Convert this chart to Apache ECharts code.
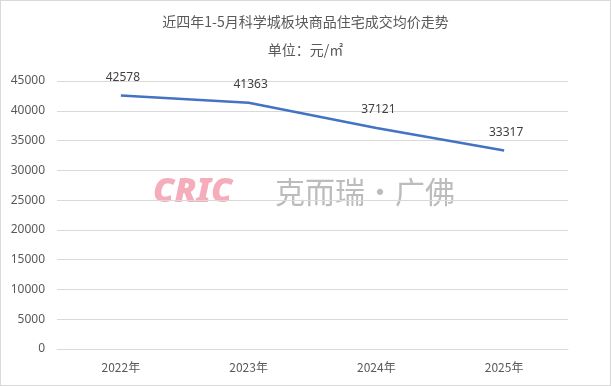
<!DOCTYPE html>
<html><head><meta charset="utf-8">
<script src="https://cdn.jsdelivr.net/npm/echarts@6/dist/echarts.min.js"></script>
<style>
html,body{margin:0;padding:0;background:#fff;}
#c{width:609px;height:384px;border:1px solid #d9d9d9;}
</style></head>
<body><div id="c"></div>
<script>
const titleText = '近四年1-5月科学城板块商品住宅成交均价走势';
const subtitleText = '单位：元/㎡';
const categories = ['2022年','2023年','2024年','2025年'];
const prices = [42578, 41363, 37121, 33317];
const yMin = 0, yMax = 45000, yStep = 5000;

const chart = echarts.init(document.getElementById('c'), null, {renderer:'canvas'});
chart.setOption({
  backgroundColor:'#fff',
  animation:false,
  title:{
    text:titleText, subtext:subtitleText, left:'center', top:9, itemGap:14,
    textStyle:{fontFamily:'Noto Sans CJK SC', fontSize:14, fontWeight:'normal', color:'#595959'},
    subtextStyle:{fontFamily:'Noto Sans CJK SC', fontSize:14, color:'#595959'}
  },
  grid:{left:56, right:42, top:80, bottom:36},
  xAxis:{
    type:'category', data:categories, boundaryGap:true,
    axisLine:{show:true, lineStyle:{color:'#d9d9d9'}},
    axisTick:{show:false},
    axisLabel:{color:'#595959', fontSize:12, fontFamily:'Noto Sans CJK SC', margin:12}
  },
  yAxis:{
    type:'value', min:yMin, max:yMax, interval:yStep,
    axisLine:{show:false}, axisTick:{show:false},
    splitLine:{lineStyle:{color:'#d9d9d9'}},
    axisLabel:{color:'#595959', fontSize:12, fontFamily:'Noto Sans', margin:12, formatter:function(v){return String(v);}}
  },
  graphic:[
    {type:'text', left:152, top:174, style:{text:'CRIC', font:'italic 900 34px "Noto Sans"', fill:'#f4a3b4', opacity:0.9}},
    {type:'text', left:274, top:176, style:{text:'克而瑞·广佛', font:'30px "Noto Sans CJK SC"', fill:'#a0a0a0', opacity:0.7}}
  ],
  series:[{
    type:'line', data:prices, symbol:'circle', symbolSize:0, showSymbol:true,
    itemStyle:{color:'#4472c4'},
    lineStyle:{color:'#4472c4', width:2.5},
    label:{show:true, position:'top', distance:12, offset:[2,0], color:'#404040', fontSize:12, fontFamily:'Noto Sans'}
  }]
});
</script></body></html>
